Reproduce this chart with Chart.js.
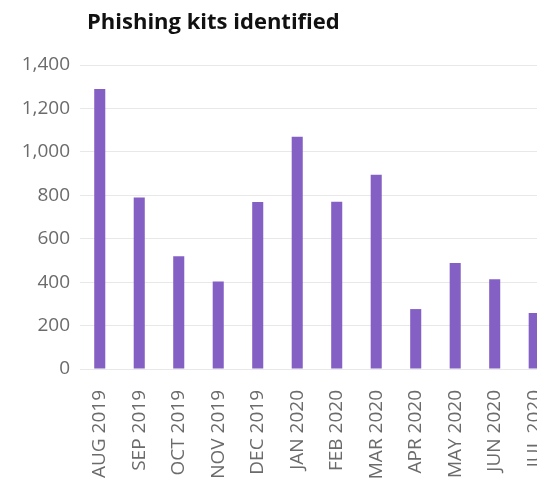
<!DOCTYPE html>
<html>
<head>
<meta charset="utf-8">
<script src="https://cdn.jsdelivr.net/npm/chart.js@4"></script>
<style>
  html, body { margin: 0; padding: 0; overflow: hidden; background: #fff; }
  #wrap { position: absolute; left: 0; top: 0; width: 570px; height: 520px; }
</style>
</head>
<body>
<div id="wrap"><canvas id="kitsChart" width="570" height="520"></canvas></div>
<script>
// Data
const months = ['AUG 2019', 'SEP 2019', 'OCT 2019', 'NOV 2019', 'DEC 2019', 'JAN 2020',
  'FEB 2020', 'MAR 2020', 'APR 2020', 'MAY 2020', 'JUN 2020', 'JUL 2020'];
const kitCounts = [1290, 790, 519, 403, 769, 1069, 770, 894, 276, 488, 413, 258];
const chartTitle = 'Phishing kits identified';

const FONT = '"Open Sans", "Noto Sans", sans-serif';

// Title drawn at the left edge of the value labels' plot area
const titlePlugin = {
  id: 'titlePlugin',
  afterDraw(c) {
    const { ctx, chartArea: { left } } = c;
    ctx.save();
    ctx.fillStyle = '#111';
    ctx.font = 'bold 22px ' + FONT;
    ctx.textBaseline = 'alphabetic';
    ctx.fillText(chartTitle, left + 7, 28.5);
    ctx.restore();
  }
};

const ctx = document.getElementById('kitsChart').getContext('2d');
const chart = new Chart(ctx, {
  type: 'bar',
  data: {
    labels: months,
    datasets: [{
      data: kitCounts,
      backgroundColor: '#8560c4',
      barPercentage: 0.28,
      categoryPercentage: 1
    }]
  },
  options: {
    responsive: false,
    animation: false,
    layout: { padding: { top: 65, left: 0, right: 0, bottom: 0 } },
    plugins: { legend: { display: false }, tooltip: { enabled: false }, title: { display: false } },
    scales: {
      x: {
        grid: { display: false },
        border: { display: false },
        ticks: {
          color: '#6b6b6b',
          font: { family: FONT, size: 19 },
          minRotation: 90,
          maxRotation: 90,
          padding: 13,
          autoSkip: false
        },
        afterFit(s) { s.height = 520 - 369; }
      },
      y: {
        min: 0,
        max: 1400,
        grid: { color: '#e8e8e8', drawTicks: false },
        border: { display: false },
        ticks: {
          stepSize: 200,
          color: '#6b6b6b',
          padding: 10,
          font: { family: FONT, size: 19 },
          callback: v => v.toLocaleString('en-US')
        },
        afterFit(s) { s.width = 80; }
      }
    }
  },
  plugins: [titlePlugin]
});
</script>
</body>
</html>
